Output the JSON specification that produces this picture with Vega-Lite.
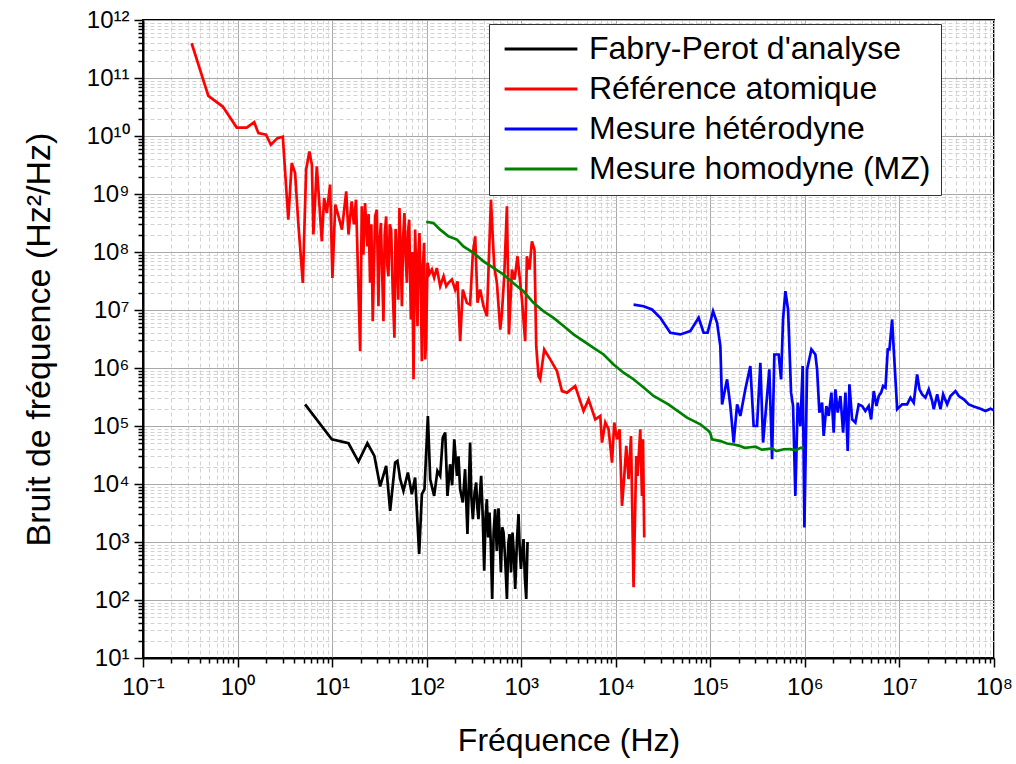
{
  "$schema": "https://vega.github.io/schema/vega-lite/v6.json",
  "autosize": "none",
  "padding": {"left": 143, "top": 20, "right": 22, "bottom": 106},
  "width": 851,
  "height": 638,
  "background": "#ffffff",
  "config": {
    "font": "Liberation Sans",
    "view": {"stroke": "#000000", "strokeWidth": 2}
  },
  "data": {
    "values": [
      {"s": "Fabry-Perot d'analyse", "f": 5.18, "b": 236000},
      {"s": "Fabry-Perot d'analyse", "f": 9.93, "b": 59000},
      {"s": "Fabry-Perot d'analyse", "f": 14.9, "b": 50400},
      {"s": "Fabry-Perot d'analyse", "f": 19.0, "b": 24400},
      {"s": "Fabry-Perot d'analyse", "f": 23.6, "b": 50400},
      {"s": "Fabry-Perot d'analyse", "f": 28.0, "b": 30500},
      {"s": "Fabry-Perot d'analyse", "f": 32.2, "b": 9060},
      {"s": "Fabry-Perot d'analyse", "f": 37.3, "b": 20500},
      {"s": "Fabry-Perot d'analyse", "f": 41.1, "b": 3440},
      {"s": "Fabry-Perot d'analyse", "f": 46.4, "b": 23400},
      {"s": "Fabry-Perot d'analyse", "f": 49.1, "b": 25000},
      {"s": "Fabry-Perot d'analyse", "f": 52.5, "b": 12100},
      {"s": "Fabry-Perot d'analyse", "f": 56.8, "b": 7600},
      {"s": "Fabry-Perot d'analyse", "f": 63.3, "b": 15800},
      {"s": "Fabry-Perot d'analyse", "f": 69.7, "b": 6670},
      {"s": "Fabry-Perot d'analyse", "f": 75.5, "b": 12900},
      {"s": "Fabry-Perot d'analyse", "f": 83.3, "b": 620},
      {"s": "Fabry-Perot d'analyse", "f": 89.0, "b": 6670},
      {"s": "Fabry-Perot d'analyse", "f": 94.8, "b": 8130},
      {"s": "Fabry-Perot d'analyse", "f": 103, "b": 149000},
      {"s": "Fabry-Perot d'analyse", "f": 109, "b": 12100},
      {"s": "Fabry-Perot d'analyse", "f": 120, "b": 6240},
      {"s": "Fabry-Perot d'analyse", "f": 130, "b": 16800},
      {"s": "Fabry-Perot d'analyse", "f": 139, "b": 13800},
      {"s": "Fabry-Perot d'analyse", "f": 148, "b": 63000},
      {"s": "Fabry-Perot d'analyse", "f": 157, "b": 77000},
      {"s": "Fabry-Perot d'analyse", "f": 166, "b": 6240},
      {"s": "Fabry-Perot d'analyse", "f": 177, "b": 21900},
      {"s": "Fabry-Perot d'analyse", "f": 186, "b": 9500},
      {"s": "Fabry-Perot d'analyse", "f": 196, "b": 59000},
      {"s": "Fabry-Perot d'analyse", "f": 209, "b": 13800},
      {"s": "Fabry-Perot d'analyse", "f": 217, "b": 30000},
      {"s": "Fabry-Perot d'analyse", "f": 226, "b": 8130},
      {"s": "Fabry-Perot d'analyse", "f": 241, "b": 4800},
      {"s": "Fabry-Perot d'analyse", "f": 255, "b": 18000},
      {"s": "Fabry-Perot d'analyse", "f": 262, "b": 5200},
      {"s": "Fabry-Perot d'analyse", "f": 270, "b": 1370},
      {"s": "Fabry-Perot d'analyse", "f": 279, "b": 9000},
      {"s": "Fabry-Perot d'analyse", "f": 288, "b": 51800},
      {"s": "Fabry-Perot d'analyse", "f": 297, "b": 6000},
      {"s": "Fabry-Perot d'analyse", "f": 308, "b": 2480},
      {"s": "Fabry-Perot d'analyse", "f": 321, "b": 7000},
      {"s": "Fabry-Perot d'analyse", "f": 334, "b": 10600},
      {"s": "Fabry-Perot d'analyse", "f": 343, "b": 4000},
      {"s": "Fabry-Perot d'analyse", "f": 353, "b": 2480},
      {"s": "Fabry-Perot d'analyse", "f": 365, "b": 6500},
      {"s": "Fabry-Perot d'analyse", "f": 377, "b": 13800},
      {"s": "Fabry-Perot d'analyse", "f": 391, "b": 3000},
      {"s": "Fabry-Perot d'analyse", "f": 406, "b": 319},
      {"s": "Fabry-Perot d'analyse", "f": 419, "b": 2500},
      {"s": "Fabry-Perot d'analyse", "f": 433, "b": 5470},
      {"s": "Fabry-Perot d'analyse", "f": 447, "b": 1200},
      {"s": "Fabry-Perot d'analyse", "f": 462, "b": 3230},
      {"s": "Fabry-Perot d'analyse", "f": 477, "b": 900},
      {"s": "Fabry-Perot d'analyse", "f": 493, "b": 104},
      {"s": "Fabry-Perot d'analyse", "f": 511, "b": 1500},
      {"s": "Fabry-Perot d'analyse", "f": 530, "b": 3680},
      {"s": "Fabry-Perot d'analyse", "f": 552, "b": 700},
      {"s": "Fabry-Perot d'analyse", "f": 575, "b": 3800},
      {"s": "Fabry-Perot d'analyse", "f": 592, "b": 1100},
      {"s": "Fabry-Perot d'analyse", "f": 610, "b": 300},
      {"s": "Fabry-Perot d'analyse", "f": 630, "b": 1800},
      {"s": "Fabry-Perot d'analyse", "f": 650, "b": 1460},
      {"s": "Fabry-Perot d'analyse", "f": 677, "b": 500},
      {"s": "Fabry-Perot d'analyse", "f": 706, "b": 104},
      {"s": "Fabry-Perot d'analyse", "f": 729, "b": 900},
      {"s": "Fabry-Perot d'analyse", "f": 752, "b": 1370},
      {"s": "Fabry-Perot d'analyse", "f": 780, "b": 300},
      {"s": "Fabry-Perot d'analyse", "f": 809, "b": 1460},
      {"s": "Fabry-Perot d'analyse", "f": 836, "b": 600},
      {"s": "Fabry-Perot d'analyse", "f": 864, "b": 155},
      {"s": "Fabry-Perot d'analyse", "f": 900, "b": 1000},
      {"s": "Fabry-Perot d'analyse", "f": 936, "b": 3020},
      {"s": "Fabry-Perot d'analyse", "f": 963, "b": 800},
      {"s": "Fabry-Perot d'analyse", "f": 993, "b": 342},
      {"s": "Fabry-Perot d'analyse", "f": 1025, "b": 700},
      {"s": "Fabry-Perot d'analyse", "f": 1058, "b": 1120},
      {"s": "Fabry-Perot d'analyse", "f": 1092, "b": 250},
      {"s": "Fabry-Perot d'analyse", "f": 1130, "b": 104},
      {"s": "Fabry-Perot d'analyse", "f": 1166, "b": 1000},

      {"s": "Référence atomique", "f": 0.327, "b": 3.97e11},
      {"s": "Référence atomique", "f": 0.491, "b": 4.92e10},
      {"s": "Référence atomique", "f": 0.697, "b": 3.22e10},
      {"s": "Référence atomique", "f": 0.98, "b": 1.4e10},
      {"s": "Référence atomique", "f": 1.25, "b": 1.4e10},
      {"s": "Référence atomique", "f": 1.5, "b": 1.73e10},
      {"s": "Référence atomique", "f": 1.66, "b": 1.12e10},
      {"s": "Référence atomique", "f": 2.0, "b": 1.05e10},
      {"s": "Référence atomique", "f": 2.25, "b": 7.06e9},
      {"s": "Référence atomique", "f": 2.64, "b": 9.2e9},
      {"s": "Référence atomique", "f": 3.01, "b": 9.7e9},
      {"s": "Référence atomique", "f": 3.44, "b": 3.6e8},
      {"s": "Référence atomique", "f": 3.74, "b": 3.42e9},
      {"s": "Référence atomique", "f": 4.06, "b": 2.3e9},
      {"s": "Référence atomique", "f": 4.4, "b": 2.96e8},
      {"s": "Référence atomique", "f": 4.9, "b": 2.94e7},
      {"s": "Référence atomique", "f": 5.31, "b": 2.62e9},
      {"s": "Référence atomique", "f": 5.75, "b": 5.41e9},
      {"s": "Référence atomique", "f": 6.11, "b": 3.19e9},
      {"s": "Référence atomique", "f": 6.34, "b": 2.0e8},
      {"s": "Référence atomique", "f": 6.89, "b": 2.99e9},
      {"s": "Référence atomique", "f": 7.34, "b": 6.55e8},
      {"s": "Référence atomique", "f": 7.78, "b": 1.53e8},
      {"s": "Référence atomique", "f": 8.23, "b": 8.5e8},
      {"s": "Référence atomique", "f": 8.79, "b": 4.7e8},
      {"s": "Référence atomique", "f": 9.52, "b": 1.45e9},
      {"s": "Référence atomique", "f": 10.07, "b": 3.58e7},
      {"s": "Référence atomique", "f": 10.8, "b": 6.55e8},
      {"s": "Référence atomique", "f": 11.7, "b": 4.1e8},
      {"s": "Référence atomique", "f": 12.7, "b": 2.43e8},
      {"s": "Référence atomique", "f": 14.1, "b": 1.11e9},
      {"s": "Référence atomique", "f": 14.9, "b": 2.0e8},
      {"s": "Référence atomique", "f": 16.1, "b": 7.46e8},
      {"s": "Référence atomique", "f": 17.0, "b": 3.0e8},
      {"s": "Référence atomique", "f": 17.9, "b": 7.98e8},
      {"s": "Référence atomique", "f": 19.8, "b": 1.95e6},
      {"s": "Référence atomique", "f": 20.6, "b": 6.12e8},
      {"s": "Référence atomique", "f": 21.4, "b": 9.0e7},
      {"s": "Référence atomique", "f": 22.3, "b": 7.0e8},
      {"s": "Référence atomique", "f": 23.6, "b": 1.25e8},
      {"s": "Référence atomique", "f": 24.3, "b": 4.5e8},
      {"s": "Référence atomique", "f": 25.2, "b": 2.94e7},
      {"s": "Référence atomique", "f": 26.0, "b": 3.0e8},
      {"s": "Référence atomique", "f": 26.9, "b": 6.43e6},
      {"s": "Référence atomique", "f": 28.5, "b": 4.1e8},
      {"s": "Référence atomique", "f": 29.7, "b": 5.37e8},
      {"s": "Référence atomique", "f": 30.9, "b": 1.16e7},
      {"s": "Référence atomique", "f": 31.8, "b": 1.5e8},
      {"s": "Référence atomique", "f": 32.8, "b": 3.17e8},
      {"s": "Référence atomique", "f": 34.9, "b": 6.43e6},
      {"s": "Référence atomique", "f": 36.0, "b": 2.0e8},
      {"s": "Référence atomique", "f": 37.3, "b": 4.1e8},
      {"s": "Référence atomique", "f": 38.3, "b": 6.0e7},
      {"s": "Référence atomique", "f": 39.4, "b": 3.82e7},
      {"s": "Référence atomique", "f": 40.7, "b": 3.0e8},
      {"s": "Référence atomique", "f": 42.1, "b": 2.43e8},
      {"s": "Référence atomique", "f": 43.8, "b": 2.0e7},
      {"s": "Référence atomique", "f": 45.6, "b": 3.33e6},
      {"s": "Référence atomique", "f": 46.9, "b": 2.5e8},
      {"s": "Référence atomique", "f": 48.4, "b": 9.66e7},
      {"s": "Référence atomique", "f": 50.0, "b": 1.5e7},
      {"s": "Référence atomique", "f": 51.5, "b": 5.74e8},
      {"s": "Référence atomique", "f": 53.0, "b": 1.2e8},
      {"s": "Référence atomique", "f": 54.7, "b": 1.16e7},
      {"s": "Référence atomique", "f": 56.4, "b": 1.8e8},
      {"s": "Référence atomique", "f": 58.2, "b": 4.7e8},
      {"s": "Référence atomique", "f": 60.0, "b": 8.0e7},
      {"s": "Référence atomique", "f": 61.8, "b": 2.94e7},
      {"s": "Référence atomique", "f": 63.5, "b": 2.2e8},
      {"s": "Référence atomique", "f": 65.3, "b": 3.61e8},
      {"s": "Référence atomique", "f": 68.1, "b": 6.86e6},
      {"s": "Référence atomique", "f": 70.3, "b": 1.0e8},
      {"s": "Référence atomique", "f": 72.6, "b": 6.37e5},
      {"s": "Référence atomique", "f": 75.5, "b": 2.43e8},
      {"s": "Référence atomique", "f": 77.6, "b": 4.0e7},
      {"s": "Référence atomique", "f": 80.0, "b": 5.26e6},
      {"s": "Référence atomique", "f": 81.8, "b": 9.0e7},
      {"s": "Référence atomique", "f": 83.9, "b": 2.13e8},
      {"s": "Référence atomique", "f": 86.5, "b": 3.0e7},
      {"s": "Référence atomique", "f": 89.0, "b": 1.31e6},
      {"s": "Référence atomique", "f": 91.5, "b": 6.0e7},
      {"s": "Référence atomique", "f": 94.0, "b": 1.44e8},
      {"s": "Référence atomique", "f": 96.4, "b": 1.4e6},
      {"s": "Référence atomique", "f": 98.8, "b": 3.1e6},
      {"s": "Référence atomique", "f": 102, "b": 6.5e7},
      {"s": "Référence atomique", "f": 107, "b": 4.2e7},
      {"s": "Référence atomique", "f": 113.5, "b": 4.98e7},
      {"s": "Référence atomique", "f": 120, "b": 3.6e7},
      {"s": "Référence atomique", "f": 128, "b": 5.3e7},
      {"s": "Référence atomique", "f": 139, "b": 2.57e7},
      {"s": "Référence atomique", "f": 151, "b": 3.82e7},
      {"s": "Référence atomique", "f": 161, "b": 2.57e7},
      {"s": "Référence atomique", "f": 170, "b": 2.94e7},
      {"s": "Référence atomique", "f": 185, "b": 3.35e7},
      {"s": "Référence atomique", "f": 200, "b": 2.25e7},
      {"s": "Référence atomique", "f": 212, "b": 3.13e7},
      {"s": "Référence atomique", "f": 226, "b": 2.9e6},
      {"s": "Référence atomique", "f": 241, "b": 2.25e7},
      {"s": "Référence atomique", "f": 266, "b": 1.33e7},
      {"s": "Référence atomique", "f": 288, "b": 1.24e7},
      {"s": "Référence atomique", "f": 308, "b": 9.66e7},
      {"s": "Référence atomique", "f": 326, "b": 1.86e8},
      {"s": "Référence atomique", "f": 345, "b": 1.33e7},
      {"s": "Référence atomique", "f": 368, "b": 2.25e7},
      {"s": "Référence atomique", "f": 399, "b": 1.16e7},
      {"s": "Référence atomique", "f": 434, "b": 7.8e6},
      {"s": "Référence atomique", "f": 451, "b": 4.98e7},
      {"s": "Référence atomique", "f": 478, "b": 7.98e8},
      {"s": "Référence atomique", "f": 518, "b": 5.68e7},
      {"s": "Référence atomique", "f": 553, "b": 2.94e7},
      {"s": "Référence atomique", "f": 600, "b": 4.6e6},
      {"s": "Référence atomique", "f": 625, "b": 8.95e6},
      {"s": "Référence atomique", "f": 661, "b": 3.82e7},
      {"s": "Référence atomique", "f": 706, "b": 6.12e8},
      {"s": "Référence atomique", "f": 741, "b": 3.79e6},
      {"s": "Référence atomique", "f": 798, "b": 4.98e7},
      {"s": "Référence atomique", "f": 850, "b": 3.35e7},
      {"s": "Référence atomique", "f": 914, "b": 8.44e7},
      {"s": "Référence atomique", "f": 976, "b": 2.94e7},
      {"s": "Référence atomique", "f": 1017, "b": 1.52e7},
      {"s": "Référence atomique", "f": 1101, "b": 2.9e6},
      {"s": "Référence atomique", "f": 1148, "b": 8.44e7},
      {"s": "Référence atomique", "f": 1222, "b": 4.98e7},
      {"s": "Référence atomique", "f": 1297, "b": 1.53e8},
      {"s": "Référence atomique", "f": 1381, "b": 1.1e8},
      {"s": "Référence atomique", "f": 1441, "b": 2.38e6},
      {"s": "Référence atomique", "f": 1524, "b": 7.26e5},
      {"s": "Référence atomique", "f": 1588, "b": 6.37e5},
      {"s": "Référence atomique", "f": 1751, "b": 2.09e6},
      {"s": "Référence atomique", "f": 2026, "b": 1.41e6},
      {"s": "Référence atomique", "f": 2388, "b": 8.85e5},
      {"s": "Référence atomique", "f": 2698, "b": 4.0e5},
      {"s": "Référence atomique", "f": 3047, "b": 3.76e5},
      {"s": "Référence atomique", "f": 3726, "b": 4.89e5},
      {"s": "Référence atomique", "f": 4563, "b": 1.81e5},
      {"s": "Référence atomique", "f": 5152, "b": 2.88e5},
      {"s": "Référence atomique", "f": 6067, "b": 1.3e5},
      {"s": "Référence atomique", "f": 6855, "b": 1.49e5},
      {"s": "Référence atomique", "f": 7145, "b": 5.18e4},
      {"s": "Référence atomique", "f": 7745, "b": 1.15e5},
      {"s": "Référence atomique", "f": 8394, "b": 8.8e4},
      {"s": "Référence atomique", "f": 9120, "b": 2.34e4},
      {"s": "Référence atomique", "f": 9640, "b": 1.15e5},
      {"s": "Référence atomique", "f": 10300, "b": 5.9e4},
      {"s": "Référence atomique", "f": 10970, "b": 8.8e4},
      {"s": "Référence atomique", "f": 11640, "b": 4200},
      {"s": "Référence atomique", "f": 12300, "b": 13800},
      {"s": "Référence atomique", "f": 12910, "b": 45300},
      {"s": "Référence atomique", "f": 13650, "b": 12100},
      {"s": "Référence atomique", "f": 14490, "b": 67300},
      {"s": "Référence atomique", "f": 15420, "b": 166},
      {"s": "Référence atomique", "f": 16470, "b": 30500},
      {"s": "Référence atomique", "f": 17000, "b": 13800},
      {"s": "Référence atomique", "f": 18150, "b": 88000},
      {"s": "Référence atomique", "f": 18920, "b": 6240},
      {"s": "Référence atomique", "f": 19380, "b": 59000},
      {"s": "Référence atomique", "f": 20000, "b": 1200},

      {"s": "Mesure hétérodyne", "f": 15420, "b": 1.24e7},
      {"s": "Mesure hétérodyne", "f": 19680, "b": 1.16e7},
      {"s": "Mesure hétérodyne", "f": 24150, "b": 1.02e7},
      {"s": "Mesure hétérodyne", "f": 29580, "b": 7.35e6},
      {"s": "Mesure hétérodyne", "f": 37740, "b": 4.05e6},
      {"s": "Mesure hétérodyne", "f": 48160, "b": 3.79e6},
      {"s": "Mesure hétérodyne", "f": 61400, "b": 4.32e6},
      {"s": "Mesure hétérodyne", "f": 75200, "b": 7.35e6},
      {"s": "Mesure hétérodyne", "f": 84900, "b": 4.05e6},
      {"s": "Mesure hétérodyne", "f": 93600, "b": 4.05e6},
      {"s": "Mesure hétérodyne", "f": 106900, "b": 9.53e6},
      {"s": "Mesure hétérodyne", "f": 117800, "b": 6.03e6},
      {"s": "Mesure hétérodyne", "f": 127600, "b": 2.38e6},
      {"s": "Mesure hétérodyne", "f": 133100, "b": 2.36e5},
      {"s": "Mesure hétérodyne", "f": 150300, "b": 6.37e5},
      {"s": "Mesure hétérodyne", "f": 162900, "b": 2.21e5},
      {"s": "Mesure hétérodyne", "f": 176600, "b": 5.18e4},
      {"s": "Mesure hétérodyne", "f": 191900, "b": 2.36e5},
      {"s": "Mesure hétérodyne", "f": 207700, "b": 1.49e5},
      {"s": "Mesure hétérodyne", "f": 234500, "b": 4.29e5},
      {"s": "Mesure hétérodyne", "f": 264800, "b": 1.08e6},
      {"s": "Mesure hétérodyne", "f": 287100, "b": 1.0e5},
      {"s": "Mesure hétérodyne", "f": 311900, "b": 1.0e5},
      {"s": "Mesure hétérodyne", "f": 338000, "b": 1.23e6},
      {"s": "Mesure hétérodyne", "f": 361200, "b": 5.18e4},
      {"s": "Mesure hétérodyne", "f": 398100, "b": 3.28e5},
      {"s": "Mesure hétérodyne", "f": 420800, "b": 9.46e5},
      {"s": "Mesure hétérodyne", "f": 449700, "b": 2.67e4},
      {"s": "Mesure hétérodyne", "f": 475500, "b": 1.71e6},
      {"s": "Mesure hétérodyne", "f": 528200, "b": 1.71e6},
      {"s": "Mesure hétérodyne", "f": 559800, "b": 6.37e5},
      {"s": "Mesure hétérodyne", "f": 587500, "b": 6.86e6},
      {"s": "Mesure hétérodyne", "f": 622000, "b": 2.11e7},
      {"s": "Mesure hétérodyne", "f": 663800, "b": 1.02e7},
      {"s": "Mesure hétérodyne", "f": 714200, "b": 3.76e5},
      {"s": "Mesure hétérodyne", "f": 749900, "b": 2.21e5},
      {"s": "Mesure hétérodyne", "f": 792900, "b": 6240},
      {"s": "Mesure hétérodyne", "f": 838900, "b": 2.53e5},
      {"s": "Mesure hétérodyne", "f": 895700, "b": 1.0e5},
      {"s": "Mesure hétérodyne", "f": 947600, "b": 1.08e6},
      {"s": "Mesure hétérodyne", "f": 988500, "b": 1780},
      {"s": "Mesure hétérodyne", "f": 1055000, "b": 9.46e5},
      {"s": "Mesure hétérodyne", "f": 1172000, "b": 2.09e6},
      {"s": "Mesure hétérodyne", "f": 1291000, "b": 1.71e6},
      {"s": "Mesure hétérodyne", "f": 1346000, "b": 9.46e5},
      {"s": "Mesure hétérodyne", "f": 1423000, "b": 1.7e5},
      {"s": "Mesure hétérodyne", "f": 1520000, "b": 2.53e5},
      {"s": "Mesure hétérodyne", "f": 1580000, "b": 6.73e4},
      {"s": "Mesure hétérodyne", "f": 1689000, "b": 2.21e5},
      {"s": "Mesure hétérodyne", "f": 1786000, "b": 1.49e5},
      {"s": "Mesure hétérodyne", "f": 1907000, "b": 3.76e5},
      {"s": "Mesure hétérodyne", "f": 2017000, "b": 7.7e4},
      {"s": "Mesure hétérodyne", "f": 2102000, "b": 4.29e5},
      {"s": "Mesure hétérodyne", "f": 2224000, "b": 1.7e5},
      {"s": "Mesure hétérodyne", "f": 2376000, "b": 3.28e5},
      {"s": "Mesure hétérodyne", "f": 2536000, "b": 7.7e4},
      {"s": "Mesure hétérodyne", "f": 2684000, "b": 3.76e5},
      {"s": "Mesure hétérodyne", "f": 2838000, "b": 3.71e4},
      {"s": "Mesure hétérodyne", "f": 2958000, "b": 5.22e5},
      {"s": "Mesure hétérodyne", "f": 3157000, "b": 1.3e5},
      {"s": "Mesure hétérodyne", "f": 3420000, "b": 1.15e5},
      {"s": "Mesure hétérodyne", "f": 3706000, "b": 2.36e5},
      {"s": "Mesure hétérodyne", "f": 4027000, "b": 2.21e5},
      {"s": "Mesure hétérodyne", "f": 4363000, "b": 1.81e5},
      {"s": "Mesure hétérodyne", "f": 4730000, "b": 2.21e5},
      {"s": "Mesure hétérodyne", "f": 5018000, "b": 1.3e5},
      {"s": "Mesure hétérodyne", "f": 5349000, "b": 4.0e5},
      {"s": "Mesure hétérodyne", "f": 5711000, "b": 2.21e5},
      {"s": "Mesure hétérodyne", "f": 6043000, "b": 3.28e5},
      {"s": "Mesure hétérodyne", "f": 6401000, "b": 3.76e5},
      {"s": "Mesure hétérodyne", "f": 6723000, "b": 4.89e5},
      {"s": "Mesure hétérodyne", "f": 7116000, "b": 4.58e5},
      {"s": "Mesure hétérodyne", "f": 7523000, "b": 2.09e6},
      {"s": "Mesure hétérodyne", "f": 7837000, "b": 2.09e6},
      {"s": "Mesure hétérodyne", "f": 8370000, "b": 6.86e6},
      {"s": "Mesure hétérodyne", "f": 8704000, "b": 2.09e6},
      {"s": "Mesure hétérodyne", "f": 9461000, "b": 1.94e5},
      {"s": "Mesure hétérodyne", "f": 10690000, "b": 2.36e5},
      {"s": "Mesure hétérodyne", "f": 12060000, "b": 2.36e5},
      {"s": "Mesure hétérodyne", "f": 13070000, "b": 3.08e5},
      {"s": "Mesure hétérodyne", "f": 14160000, "b": 2.53e5},
      {"s": "Mesure hétérodyne", "f": 15390000, "b": 7.76e5},
      {"s": "Mesure hétérodyne", "f": 16290000, "b": 4.29e5},
      {"s": "Mesure hétérodyne", "f": 17380000, "b": 3.51e5},
      {"s": "Mesure hétérodyne", "f": 18840000, "b": 3.08e5},
      {"s": "Mesure hétérodyne", "f": 20400000, "b": 4.29e5},
      {"s": "Mesure hétérodyne", "f": 22180000, "b": 2.69e5},
      {"s": "Mesure hétérodyne", "f": 23060000, "b": 1.94e5},
      {"s": "Mesure hétérodyne", "f": 25060000, "b": 3.51e5},
      {"s": "Mesure hétérodyne", "f": 27160000, "b": 1.94e5},
      {"s": "Mesure hétérodyne", "f": 28980000, "b": 3.51e5},
      {"s": "Mesure hétérodyne", "f": 31960000, "b": 2.36e5},
      {"s": "Mesure hétérodyne", "f": 34650000, "b": 3.28e5},
      {"s": "Mesure hétérodyne", "f": 39150000, "b": 4.0e5},
      {"s": "Mesure hétérodyne", "f": 42450000, "b": 3.28e5},
      {"s": "Mesure hétérodyne", "f": 47880000, "b": 2.88e5},
      {"s": "Mesure hétérodyne", "f": 54090000, "b": 2.36e5},
      {"s": "Mesure hétérodyne", "f": 61090000, "b": 2.16e5},
      {"s": "Mesure hétérodyne", "f": 71900000, "b": 1.99e5},
      {"s": "Mesure hétérodyne", "f": 81300000, "b": 1.81e5},
      {"s": "Mesure hétérodyne", "f": 91800000, "b": 1.99e5},
      {"s": "Mesure hétérodyne", "f": 99500000, "b": 1.86e5},

      {"s": "Mesure homodyne (MZ)", "f": 98.9, "b": 3.3e8},
      {"s": "Mesure homodyne (MZ)", "f": 118, "b": 3.17e8},
      {"s": "Mesure homodyne (MZ)", "f": 139, "b": 2.43e8},
      {"s": "Mesure homodyne (MZ)", "f": 170, "b": 1.86e8},
      {"s": "Mesure homodyne (MZ)", "f": 209, "b": 1.64e8},
      {"s": "Mesure homodyne (MZ)", "f": 245, "b": 1.25e8},
      {"s": "Mesure homodyne (MZ)", "f": 313, "b": 9.7e7},
      {"s": "Mesure homodyne (MZ)", "f": 399, "b": 6.9e7},
      {"s": "Mesure homodyne (MZ)", "f": 509, "b": 5.3e7},
      {"s": "Mesure homodyne (MZ)", "f": 650, "b": 4.1e7},
      {"s": "Mesure homodyne (MZ)", "f": 829, "b": 2.9e7},
      {"s": "Mesure homodyne (MZ)", "f": 1057, "b": 2.1e7},
      {"s": "Mesure homodyne (MZ)", "f": 1349, "b": 1.33e7},
      {"s": "Mesure homodyne (MZ)", "f": 1722, "b": 9.5e6},
      {"s": "Mesure homodyne (MZ)", "f": 2198, "b": 7.3e6},
      {"s": "Mesure homodyne (MZ)", "f": 2805, "b": 5.3e6},
      {"s": "Mesure homodyne (MZ)", "f": 3575, "b": 3.8e6},
      {"s": "Mesure homodyne (MZ)", "f": 4563, "b": 2.9e6},
      {"s": "Mesure homodyne (MZ)", "f": 5823, "b": 2.23e6},
      {"s": "Mesure homodyne (MZ)", "f": 7430, "b": 1.71e6},
      {"s": "Mesure homodyne (MZ)", "f": 9480, "b": 1.15e6},
      {"s": "Mesure homodyne (MZ)", "f": 12100, "b": 8.3e5},
      {"s": "Mesure homodyne (MZ)", "f": 15400, "b": 6.4e5},
      {"s": "Mesure homodyne (MZ)", "f": 19700, "b": 4.6e5},
      {"s": "Mesure homodyne (MZ)", "f": 25100, "b": 3.3e5},
      {"s": "Mesure homodyne (MZ)", "f": 36000, "b": 2.36e5},
      {"s": "Mesure homodyne (MZ)", "f": 56700, "b": 1.39e5},
      {"s": "Mesure homodyne (MZ)", "f": 78400, "b": 1.07e5},
      {"s": "Mesure homodyne (MZ)", "f": 95900, "b": 8.2e4},
      {"s": "Mesure homodyne (MZ)", "f": 100000, "b": 7.5e4},
      {"s": "Mesure homodyne (MZ)", "f": 104000, "b": 5.9e4},
      {"s": "Mesure homodyne (MZ)", "f": 128000, "b": 5.5e4},
      {"s": "Mesure homodyne (MZ)", "f": 150000, "b": 5.0e4},
      {"s": "Mesure homodyne (MZ)", "f": 177000, "b": 4.8e4},
      {"s": "Mesure homodyne (MZ)", "f": 200000, "b": 4.6e4},
      {"s": "Mesure homodyne (MZ)", "f": 230000, "b": 4.2e4},
      {"s": "Mesure homodyne (MZ)", "f": 265000, "b": 4.3e4},
      {"s": "Mesure homodyne (MZ)", "f": 300000, "b": 4.4e4},
      {"s": "Mesure homodyne (MZ)", "f": 350000, "b": 3.9e4},
      {"s": "Mesure homodyne (MZ)", "f": 398000, "b": 4.0e4},
      {"s": "Mesure homodyne (MZ)", "f": 450000, "b": 4.1e4},
      {"s": "Mesure homodyne (MZ)", "f": 500000, "b": 3.7e4},
      {"s": "Mesure homodyne (MZ)", "f": 597000, "b": 3.97e4},
      {"s": "Mesure homodyne (MZ)", "f": 700000, "b": 4.0e4},
      {"s": "Mesure homodyne (MZ)", "f": 800000, "b": 3.8e4},
      {"s": "Mesure homodyne (MZ)", "f": 900000, "b": 4.2e4},
      {"s": "Mesure homodyne (MZ)", "f": 971000, "b": 4.25e4}
    ]
  },
  "mark": {"type": "line", "strokeWidth": 2.7, "clip": true, "interpolate": "linear"},
  "encoding": {
    "x": {
      "field": "f",
      "type": "quantitative",
      "scale": {"type": "log", "domain": [0.1, 100000000], "nice": false},
      "axis": {
        "title": "Fréquence (Hz)",
        "titleFontSize": 32,
        "titleFontWeight": "normal",
        "titleColor": "#000000",
        "titlePadding": 26,
        "values": [0.1,0.2,0.3,0.4,0.5,0.6,0.7,0.8,0.9,1,2,3,4,5,6,7,8,9,10,20,30,40,50,60,70,80,90,100,200,300,400,500,600,700,800,900,1000,2000,3000,4000,5000,6000,7000,8000,9000,10000,20000,30000,40000,50000,60000,70000,80000,90000,100000,200000,300000,400000,500000,600000,700000,800000,900000,1000000,2000000,3000000,4000000,5000000,6000000,7000000,8000000,9000000,10000000,20000000,30000000,40000000,50000000,60000000,70000000,80000000,90000000,100000000],
        "labelExpr": "abs(log(datum.value)/LN10 - round(log(datum.value)/LN10)) < 0.001 ? '10' + ['⁻¹','⁰','¹','²','³','⁴','⁵','⁶','⁷','⁸'][round(log(datum.value)/LN10)+1] : ''",
        "labelFontSize": 24,
        "labelColor": "#000000",
        "labelPadding": 8,
        "labelOverlap": false,
        "labelFlush": false,
        "labelBound": false,
        "grid": true,
        "gridColor": {"condition": {"test": "abs(log(datum.value)/LN10 - round(log(datum.value)/LN10)) < 0.001", "value": "#a8a8a8"}, "value": "#d2d2d2"},
        "gridDash": {"condition": {"test": "abs(log(datum.value)/LN10 - round(log(datum.value)/LN10)) < 0.001", "value": []}, "value": [4, 3]},
        "gridWidth": 1,
        "tickSize": {"condition": {"test": "abs(log(datum.value)/LN10 - round(log(datum.value)/LN10)) < 0.001", "value": 9}, "value": 5},
        "tickColor": "#000000",
        "tickWidth": 1.5,
        "domainColor": "#000000",
        "domainWidth": 2
      }
    },
    "y": {
      "field": "b",
      "type": "quantitative",
      "scale": {"type": "log", "domain": [10, 1000000000000], "nice": false},
      "axis": {
        "title": "Bruit de fréquence (Hz²/Hz)",
        "titleFontSize": 34,
        "titleFontWeight": "normal",
        "titleColor": "#000000",
        "titlePadding": 30,
        "values": [10,20,30,40,50,60,70,80,90,100,200,300,400,500,600,700,800,900,1000,2000,3000,4000,5000,6000,7000,8000,9000,10000,20000,30000,40000,50000,60000,70000,80000,90000,100000,200000,300000,400000,500000,600000,700000,800000,900000,1000000,2000000,3000000,4000000,5000000,6000000,7000000,8000000,9000000,10000000,20000000,30000000,40000000,50000000,60000000,70000000,80000000,90000000,100000000,200000000,300000000,400000000,500000000,600000000,700000000,800000000,900000000,1000000000,2000000000,3000000000,4000000000,5000000000,6000000000,7000000000,8000000000,9000000000,10000000000,20000000000,30000000000,40000000000,50000000000,60000000000,70000000000,80000000000,90000000000,100000000000,200000000000,300000000000,400000000000,500000000000,600000000000,700000000000,800000000000,900000000000,1000000000000],
        "labelExpr": "abs(log(datum.value)/LN10 - round(log(datum.value)/LN10)) < 0.001 ? '10' + ['⁰','¹','²','³','⁴','⁵','⁶','⁷','⁸','⁹','¹⁰','¹¹','¹²'][round(log(datum.value)/LN10)] : ''",
        "labelFontSize": 24,
        "labelColor": "#000000",
        "labelPadding": 5,
        "labelOverlap": false,
        "labelFlush": false,
        "labelBound": false,
        "grid": true,
        "gridColor": {"condition": {"test": "abs(log(datum.value)/LN10 - round(log(datum.value)/LN10)) < 0.001", "value": "#a8a8a8"}, "value": "#d2d2d2"},
        "gridDash": {"condition": {"test": "abs(log(datum.value)/LN10 - round(log(datum.value)/LN10)) < 0.001", "value": []}, "value": [4, 3]},
        "gridWidth": 1,
        "tickSize": {"condition": {"test": "abs(log(datum.value)/LN10 - round(log(datum.value)/LN10)) < 0.001", "value": 9}, "value": 5},
        "tickColor": "#000000",
        "tickWidth": 1.5,
        "domainColor": "#000000",
        "domainWidth": 2
      }
    },
    "color": {
      "field": "s",
      "type": "nominal",
      "scale": {
        "domain": ["Fabry-Perot d'analyse", "Référence atomique", "Mesure hétérodyne", "Mesure homodyne (MZ)"],
        "range": ["#000000", "#ff0000", "#0000ff", "#008000"]
      },
      "legend": {
        "title": null,
        "orient": "none",
        "legendX": 346,
        "legendY": 4,
        "symbolType": "stroke",
        "symbolStrokeWidth": 3,
        "symbolSize": 5300,
        "clipHeight": 30,
        "symbolOffset": 4,
        "labelFontSize": 32,
        "labelColor": "#000000",
        "labelOffset": 10,
        "labelLimit": 0,
        "rowPadding": 8,
        "padding": 10,
        "strokeColor": "#333333",
        "fillColor": "#ffffff"
      }
    }
  }
}
